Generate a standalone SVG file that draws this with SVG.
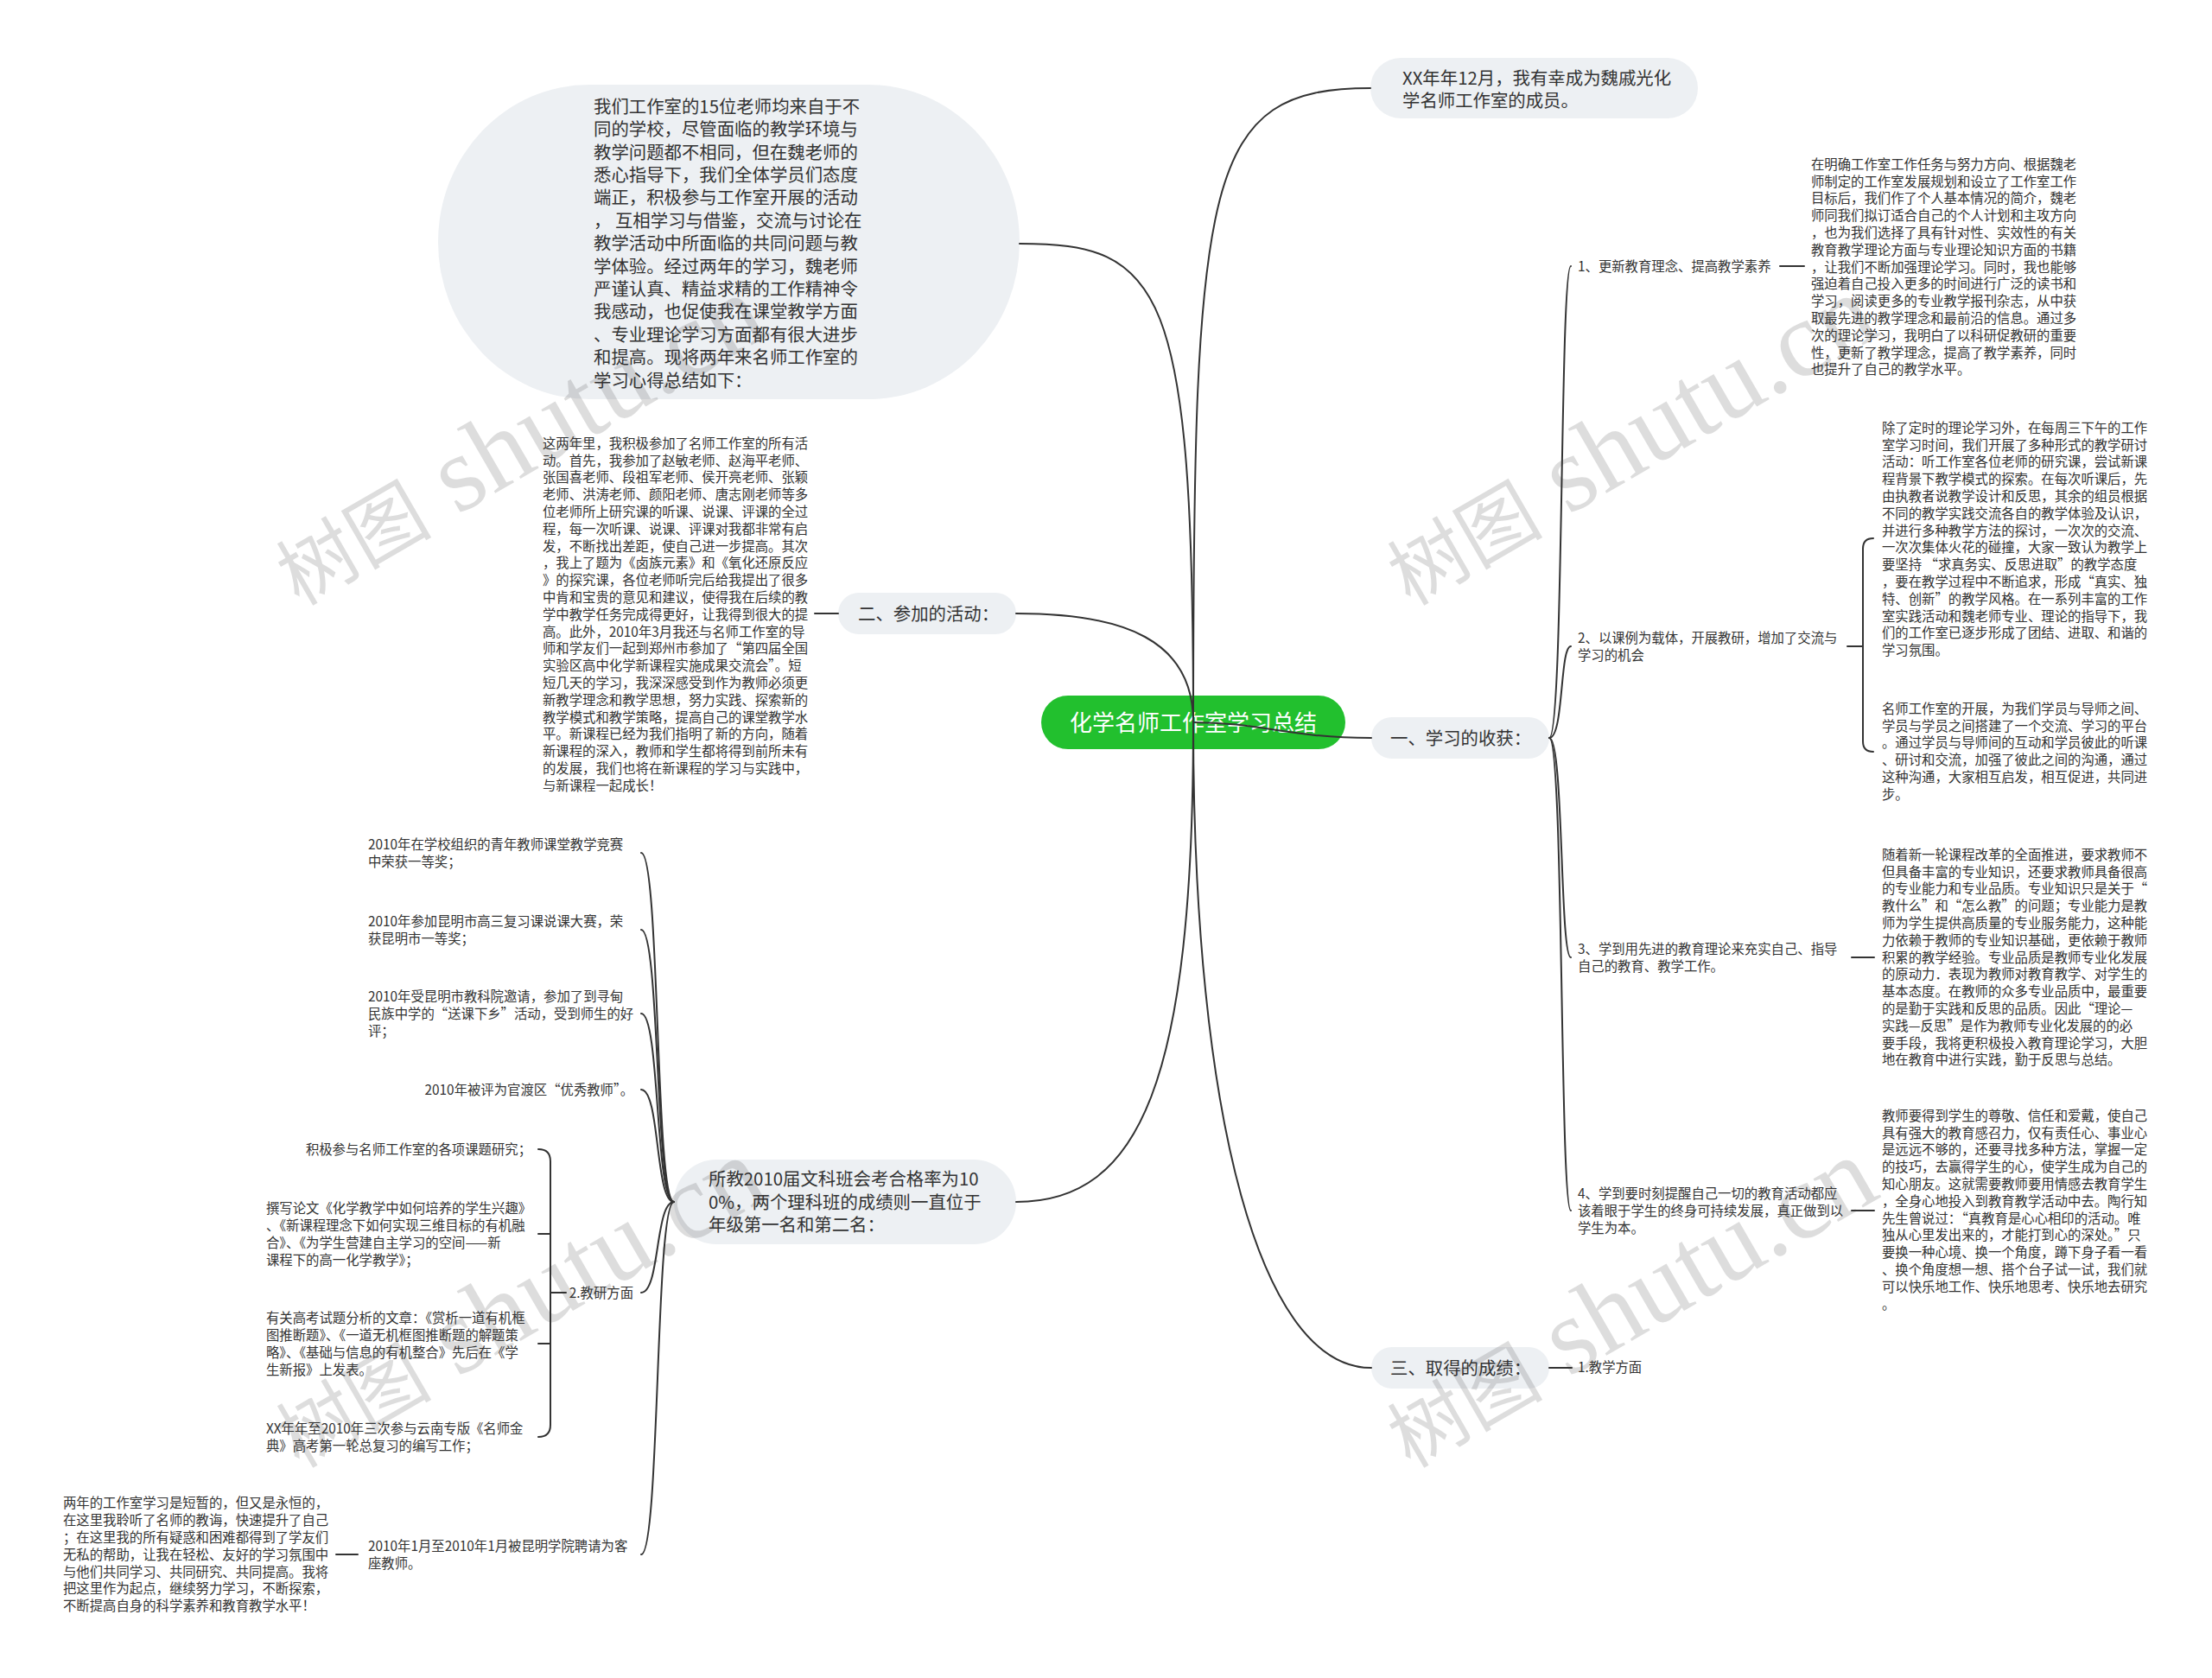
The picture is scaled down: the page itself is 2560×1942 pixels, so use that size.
<svg xmlns="http://www.w3.org/2000/svg" width="2560" height="1942" viewBox="0 0 2560 1942">
<style>
text{font-family:"Noto Sans CJK SC","Noto Sans",sans-serif;fill:#333}
.s{font-size:15.36px}
.m{font-size:20.4px}
.root{font-size:26px;fill:#fff;text-anchor:middle}
.end{text-anchor:end}
.pill{fill:#edf0f3}
.ln{fill:none;stroke:#333;stroke-width:2;stroke-linecap:round}
.wm{fill:#000;fill-opacity:0.17}
.wmc{font-size:90px;font-family:"Noto Sans CJK SC",sans-serif}
.wml{font-size:125px;font-family:"Liberation Serif",serif}
</style>
<rect width="2560" height="1942" fill="#fff"/>

<g id="root">
<rect x="1205" y="805" width="352" height="62" rx="31" fill="#22c02e"/>
<text class="root" x="1381" y="846">化学名师工作室学习总结</text>
</g>

<g id="n-intro">
<rect class="pill" x="507" y="98" width="673" height="364" rx="175" ry="182"/>
<text class="m">
<tspan x="687" y="130.8">我们工作室的15位老师均来自于不</tspan>
<tspan x="687" y="157.2">同的学校，尽管面临的教学环境与</tspan>
<tspan x="687" y="183.6">教学问题都不相同，但在魏老师的</tspan>
<tspan x="687" y="210">悉心指导下，我们全体学员们态度</tspan>
<tspan x="687" y="236.4">端正，积极参与工作室开展的活动</tspan>
<tspan x="687" y="262.8">， 互相学习与借鉴，交流与讨论在</tspan>
<tspan x="687" y="289.2">教学活动中所面临的共同问题与教</tspan>
<tspan x="687" y="315.6">学体验。经过两年的学习，魏老师</tspan>
<tspan x="687" y="342">严谨认真、精益求精的工作精神令</tspan>
<tspan x="687" y="368.4">我感动，也促使我在课堂教学方面</tspan>
<tspan x="687" y="394.8">、专业理论学习方面都有很大进步</tspan>
<tspan x="687" y="421.2">和提高。现将两年来名师工作室的</tspan>
<tspan x="687" y="447.6">学习心得总结如下：</tspan>
</text>
</g>

<g id="n-member">
<rect class="pill" x="1586" y="67" width="379" height="70" rx="35"/>
<text class="m">
<tspan x="1623" y="98">XX年年12月，我有幸成为魏戚光化</tspan>
<tspan x="1623" y="124.4">学名师工作室的成员。</tspan>
</text>
</g>

<g id="n-gain">
<rect class="pill" x="1587" y="830" width="206" height="48" rx="24"/>
<text class="m" x="1609" y="861.8">一、学习的收获：</text>
</g>

<g id="n-activity">
<rect class="pill" x="970" y="686" width="206" height="48" rx="24"/>
<text class="m" x="993" y="717.8">二、参加的活动：</text>
</g>

<g id="n-result">
<rect class="pill" x="1587" y="1559" width="206" height="48" rx="24"/>
<text class="m" x="1609" y="1590.8">三、取得的成绩：</text>
</g>

<g id="n-class">
<rect class="pill" x="780" y="1342" width="396" height="98" rx="49"/>
<text class="m">
<tspan x="820" y="1372.4">所教2010届文科班会考合格率为10</tspan>
<tspan x="820" y="1398.8">0%，两个理科班的成绩则一直位于</tspan>
<tspan x="820" y="1425.2">年级第一名和第二名：</tspan>
</text>
</g>

<g id="n-g1">
<text class="s" x="1826" y="313.8">1、更新教育理念、提高教学素养</text>
</g>
<g id="n-g1-d">
<text class="s">
<tspan x="2096" y="195.8">在明确工作室工作任务与努力方向、根据魏老</tspan>
<tspan x="2096" y="215.6">师制定的工作室发展规划和设立了工作室工作</tspan>
<tspan x="2096" y="235.4">目标后，我们作了个人基本情况的简介，魏老</tspan>
<tspan x="2096" y="255.2">师同我们拟订适合自己的个人计划和主攻方向</tspan>
<tspan x="2096" y="275">，也为我们选择了具有针对性、实效性的有关</tspan>
<tspan x="2096" y="294.8">教育教学理论方面与专业理论知识方面的书籍</tspan>
<tspan x="2096" y="314.6">，让我们不断加强理论学习。同时，我也能够</tspan>
<tspan x="2096" y="334.4">强迫着自己投入更多的时间进行广泛的读书和</tspan>
<tspan x="2096" y="354.2">学习，阅读更多的专业教学报刊杂志，从中获</tspan>
<tspan x="2096" y="374">取最先进的教学理念和最前沿的信息。通过多</tspan>
<tspan x="2096" y="393.8">次的理论学习，我明白了以科研促教研的重要</tspan>
<tspan x="2096" y="413.6">性，更新了教学理念，提高了教学素养，同时</tspan>
<tspan x="2096" y="433.4">也提升了自己的教学水平。</tspan>
</text>
</g>

<g id="n-g2">
<text class="s">
<tspan x="1826" y="743.9">2、以课例为载体，开展教研，增加了交流与</tspan>
<tspan x="1826" y="763.7">学习的机会</tspan>
</text>
</g>
<g id="n-g2-d1">
<text class="s">
<tspan x="2178" y="500.8">除了定时的理论学习外，在每周三下午的工作</tspan>
<tspan x="2178" y="520.6">室学习时间，我们开展了多种形式的教学研讨</tspan>
<tspan x="2178" y="540.4">活动：听工作室各位老师的研究课，尝试新课</tspan>
<tspan x="2178" y="560.2">程背景下教学模式的探索。在每次听课后，先</tspan>
<tspan x="2178" y="580">由执教者说教学设计和反思，其余的组员根据</tspan>
<tspan x="2178" y="599.8">不同的教学实践交流各自的教学体验及认识，</tspan>
<tspan x="2178" y="619.6">并进行多种教学方法的探讨，一次次的交流、</tspan>
<tspan x="2178" y="639.4">一次次集体火花的碰撞，大家一致认为教学上</tspan>
<tspan x="2178" y="659.2">要坚持 “求真务实、反思进取”的教学态度</tspan>
<tspan x="2178" y="679">，要在教学过程中不断追求，形成“真实、独</tspan>
<tspan x="2178" y="698.8">特、创新”的教学风格。在一系列丰富的工作</tspan>
<tspan x="2178" y="718.6">室实践活动和魏老师专业、理论的指导下，我</tspan>
<tspan x="2178" y="738.4">们的工作室已逐步形成了团结、进取、和谐的</tspan>
<tspan x="2178" y="758.2">学习氛围。</tspan>
</text>
</g>
<g id="n-g2-d2">
<text class="s">
<tspan x="2178" y="825.8">名师工作室的开展，为我们学员与导师之间、</tspan>
<tspan x="2178" y="845.6">学员与学员之间搭建了一个交流、学习的平台</tspan>
<tspan x="2178" y="865.4">。通过学员与导师间的互动和学员彼此的听课</tspan>
<tspan x="2178" y="885.2">、研讨和交流，加强了彼此之间的沟通，通过</tspan>
<tspan x="2178" y="905">这种沟通，大家相互启发，相互促进，共同进</tspan>
<tspan x="2178" y="924.8">步。</tspan>
</text>
</g>

<g id="n-g3">
<text class="s">
<tspan x="1826" y="1103.9">3、学到用先进的教育理论来充实自己、指导</tspan>
<tspan x="1826" y="1123.7">自己的教育、教学工作。</tspan>
</text>
</g>
<g id="n-g3-d">
<text class="s">
<tspan x="2178" y="994.8">随着新一轮课程改革的全面推进，要求教师不</tspan>
<tspan x="2178" y="1014.6">但具备丰富的专业知识，还要求教师具备很高</tspan>
<tspan x="2178" y="1034.4">的专业能力和专业品质。专业知识只是关于“</tspan>
<tspan x="2178" y="1054.2">教什么”和“怎么教”的问题；专业能力是教</tspan>
<tspan x="2178" y="1074">师为学生提供高质量的专业服务能力，这种能</tspan>
<tspan x="2178" y="1093.8">力依赖于教师的专业知识基础，更依赖于教师</tspan>
<tspan x="2178" y="1113.6">积累的教学经验。专业品质是教师专业化发展</tspan>
<tspan x="2178" y="1133.4">的原动力．表现为教师对教育教学、对学生的</tspan>
<tspan x="2178" y="1153.2">基本态度。在教师的众多专业品质中，最重要</tspan>
<tspan x="2178" y="1173">的是勤于实践和反思的品质。因此“理论—</tspan>
<tspan x="2178" y="1192.8">实践—反思”是作为教师专业化发展的的必</tspan>
<tspan x="2178" y="1212.6">要手段，我将更积极投入教育理论学习，大胆</tspan>
<tspan x="2178" y="1232.4">地在教育中进行实践，勤于反思与总结。</tspan>
</text>
</g>

<g id="n-g4">
<text class="s">
<tspan x="1826" y="1387">4、学到要时刻提醒自己一切的教育活动都应</tspan>
<tspan x="1826" y="1406.8">该着眼于学生的终身可持续发展，真正做到以</tspan>
<tspan x="1826" y="1426.6">学生为本。</tspan>
</text>
</g>
<g id="n-g4-d">
<text class="s">
<tspan x="2178" y="1296.8">教师要得到学生的尊敬、信任和爱戴，使自己</tspan>
<tspan x="2178" y="1316.6">具有强大的教育感召力，仅有责任心、事业心</tspan>
<tspan x="2178" y="1336.4">是远远不够的，还要寻找多种方法，掌握一定</tspan>
<tspan x="2178" y="1356.2">的技巧，去赢得学生的心，使学生成为自己的</tspan>
<tspan x="2178" y="1376">知心朋友。这就需要教师要用情感去教育学生</tspan>
<tspan x="2178" y="1395.8">，全身心地投入到教育教学活动中去。陶行知</tspan>
<tspan x="2178" y="1415.6">先生曾说过：“真教育是心心相印的活动。唯</tspan>
<tspan x="2178" y="1435.4">独从心里发出来的，才能打到心的深处。”只</tspan>
<tspan x="2178" y="1455.2">要换一种心境、换一个角度，蹲下身子看一看</tspan>
<tspan x="2178" y="1475">、换个角度想一想、搭个台子试一试，我们就</tspan>
<tspan x="2178" y="1494.8">可以快乐地工作、快乐地思考、快乐地去研究</tspan>
<tspan x="2178" y="1514.6">。</tspan>
</text>
</g>

<g id="n-r1">
<text class="s" x="1826" y="1587.8">1.教学方面</text>
</g>

<g id="n-act-d">
<text class="s">
<tspan x="628" y="518.8">这两年里，我积极参加了名师工作室的所有活</tspan>
<tspan x="628" y="538.6">动。首先，我参加了赵敏老师、赵海平老师、</tspan>
<tspan x="628" y="558.4">张国喜老师、段祖军老师、侯开亮老师、张颖</tspan>
<tspan x="628" y="578.2">老师、洪涛老师、颜阳老师、唐志刚老师等多</tspan>
<tspan x="628" y="598">位老师所上研究课的听课、说课、评课的全过</tspan>
<tspan x="628" y="617.8">程，每一次听课、说课、评课对我都非常有启</tspan>
<tspan x="628" y="637.6">发，不断找出差距，使自己进一步提高。其次</tspan>
<tspan x="628" y="657.4">，我上了题为《卤族元素》和《氧化还原反应</tspan>
<tspan x="628" y="677.2">》的探究课，各位老师听完后给我提出了很多</tspan>
<tspan x="628" y="697">中肯和宝贵的意见和建议，使得我在后续的教</tspan>
<tspan x="628" y="716.8">学中教学任务完成得更好，让我得到很大的提</tspan>
<tspan x="628" y="736.6">高。此外，2010年3月我还与名师工作室的导</tspan>
<tspan x="628" y="756.4">师和学友们一起到郑州市参加了“第四届全国</tspan>
<tspan x="628" y="776.2">实验区高中化学新课程实施成果交流会”。短</tspan>
<tspan x="628" y="796">短几天的学习，我深深感受到作为教师必须更</tspan>
<tspan x="628" y="815.8">新教学理念和教学思想，努力实践、探索新的</tspan>
<tspan x="628" y="835.6">教学模式和教学策略，提高自己的课堂教学水</tspan>
<tspan x="628" y="855.4">平。新课程已经为我们指明了新的方向，随着</tspan>
<tspan x="628" y="875.2">新课程的深入，教师和学生都将得到前所未有</tspan>
<tspan x="628" y="895">的发展，我们也将在新课程的学习与实践中，</tspan>
<tspan x="628" y="914.8">与新课程一起成长！</tspan>
</text>
</g>

<g id="n-c1">
<text class="s">
<tspan x="426" y="982.9">2010年在学校组织的青年教师课堂教学竞赛</tspan>
<tspan x="426" y="1002.7">中荣获一等奖；</tspan>
</text>
</g>
<g id="n-c2">
<text class="s">
<tspan x="426" y="1071.9">2010年参加昆明市高三复习课说课大赛，荣</tspan>
<tspan x="426" y="1091.7">获昆明市一等奖；</tspan>
</text>
</g>
<g id="n-c3">
<text class="s">
<tspan x="426" y="1159">2010年受昆明市教科院邀请，参加了到寻甸</tspan>
<tspan x="426" y="1178.8">民族中学的“送课下乡”活动，受到师生的好</tspan>
<tspan x="426" y="1198.6">评；</tspan>
</text>
</g>
<g id="n-c4">
<text class="s end" x="733" y="1266.8">2010年被评为官渡区“优秀教师”。</text>
</g>
<g id="n-c5">
<text class="s end" x="733" y="1501.8">2.教研方面</text>
</g>
<g id="n-d1">
<text class="s end" x="615" y="1335.8">积极参与名师工作室的各项课题研究；</text>
</g>
<g id="n-d2">
<text class="s">
<tspan x="308" y="1404.1">撰写论文《化学教学中如何培养的学生兴趣》</tspan>
<tspan x="308" y="1423.9">、《新课程理念下如何实现三维目标的有机融</tspan>
<tspan x="308" y="1443.7">合》、《为学生营建自主学习的空间——新</tspan>
<tspan x="308" y="1463.5">课程下的高一化学教学》；</tspan>
</text>
</g>
<g id="n-d3">
<text class="s">
<tspan x="308" y="1531.1">有关高考试题分析的文章：《赏析一道有机框</tspan>
<tspan x="308" y="1550.9">图推断题》、《一道无机框图推断题的解题策</tspan>
<tspan x="308" y="1570.7">略》、《基础与信息的有机整合》先后在《学</tspan>
<tspan x="308" y="1590.5">生新报》上发表。</tspan>
</text>
</g>
<g id="n-d4">
<text class="s">
<tspan x="308" y="1658.9">XX年年至2010年三次参与云南专版《名师金</tspan>
<tspan x="308" y="1678.7">典》高考第一轮总复习的编写工作；</tspan>
</text>
</g>
<g id="n-c6">
<text class="s">
<tspan x="426" y="1794.9">2010年1月至2010年1月被昆明学院聘请为客</tspan>
<tspan x="426" y="1814.7">座教师。</tspan>
</text>
</g>
<g id="n-c6-d">
<text class="s">
<tspan x="73" y="1745.4">两年的工作室学习是短暂的，但又是永恒的，</tspan>
<tspan x="73" y="1765.2">在这里我聆听了名师的教诲，快速提升了自己</tspan>
<tspan x="73" y="1785">；在这里我的所有疑惑和困难都得到了学友们</tspan>
<tspan x="73" y="1804.8">无私的帮助，让我在轻松、友好的学习氛围中</tspan>
<tspan x="73" y="1824.6">与他们共同学习、共同研究、共同提高。我将</tspan>
<tspan x="73" y="1844.4">把这里作为起点，继续努力学习，不断探索，</tspan>
<tspan x="73" y="1864.2">不断提高自身的科学素养和教育教学水平！</tspan>
</text>
</g>

<g id="connectors" class="ln">
<path d="M1381,836 C1381,200 1395,102 1586,102"/>
<path d="M1381,836 C1381,330 1345,282 1180,282"/>
<path d="M1381,836 C1381,740 1300,710 1176,710"/>
<path d="M1381,836 C1460,836 1490,854 1587,854"/>
<path d="M1381,836 C1381,1250 1320,1391 1176,1391"/>
<path d="M1381,836 C1381,1300 1460,1583 1587,1583"/>
<path d="M1793,854 C1810,854 1805,308 1818,308"/>
<path d="M1793,854 C1810,854 1805,748 1818,748"/>
<path d="M1793,854 C1810,854 1805,1108 1818,1108"/>
<path d="M1793,854 C1810,854 1805,1401 1818,1401"/>
<path d="M2060,308 H2088"/>
<path d="M2138,748 H2156"/>
<path d="M2168,623 Q2156,623 2156,635 V858 Q2156,870 2168,870"/>
<path d="M2143,1108 H2169"/>
<path d="M2143,1401 H2169"/>
<path d="M1793,1583 H1819"/>
<path d="M943,710 H970"/>
<path d="M780,1391 C758,1391 764,987 742,987"/>
<path d="M780,1391 C758,1391 764,1076 742,1076"/>
<path d="M780,1391 C758,1391 764,1173 742,1173"/>
<path d="M780,1391 C758,1391 764,1261 742,1261"/>
<path d="M780,1391 C758,1391 764,1496 742,1496"/>
<path d="M780,1391 C758,1391 764,1799 742,1799"/>
<path d="M655,1496 H637"/>
<path d="M623,1330 Q637,1330 637,1344 V1649 Q637,1663 623,1663"/>
<path d="M623,1428 H637"/>
<path d="M623,1555 H637"/>
<path d="M389,1799 H414"/>
</g>

<g id="watermarks" class="wm">
<text transform="translate(346,702) rotate(-30)"><tspan class="wmc">树图</tspan><tspan class="wml"> shutu.cn</tspan></text>
<text transform="translate(1632,702) rotate(-30)"><tspan class="wmc">树图</tspan><tspan class="wml"> shutu.cn</tspan></text>
<text transform="translate(346,1700) rotate(-30)"><tspan class="wmc">树图</tspan><tspan class="wml"> shutu.cn</tspan></text>
<text transform="translate(1632,1700) rotate(-30)"><tspan class="wmc">树图</tspan><tspan class="wml"> shutu.cn</tspan></text>
</g>
</svg>
